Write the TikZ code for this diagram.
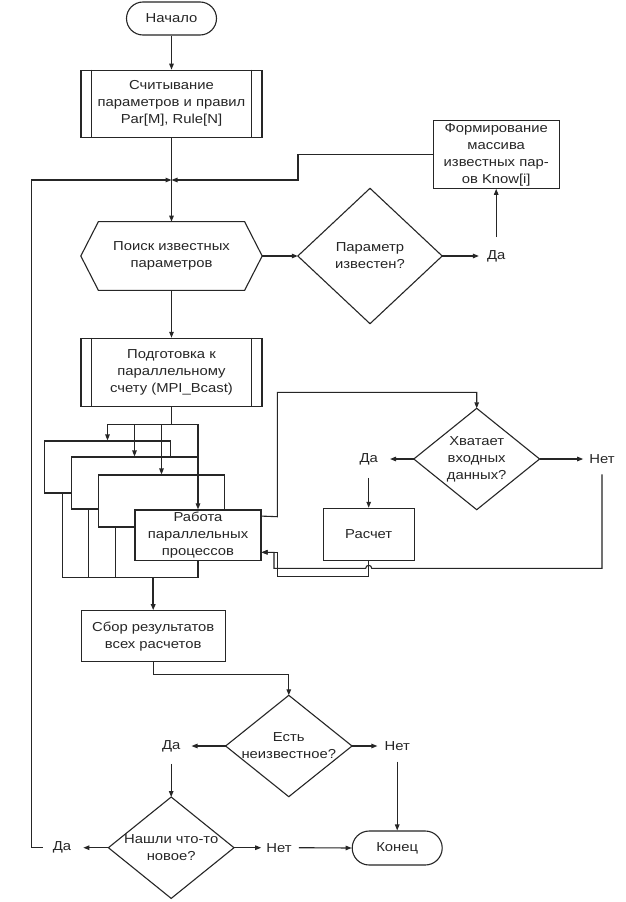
\documentclass[tikz,border=0pt]{standalone}
\usepackage{fontspec}
\setmainfont[FakeStretch=1.14]{Liberation Sans}
\usetikzlibrary{arrows.meta}
\begin{document}
\begin{tikzpicture}[x=1pt,y=-1pt,
 every node/.style={font=\fontsize{13}{17}\selectfont, text=black!85, align=center},
 ln/.style={line width=1.1pt, draw=black!85},
 arr/.style={ln, -{Triangle[length=6pt,width=4.5pt]}},
 box/.style={ln, rectangle, fill=white, inner sep=0pt},
 shp/.style={rectangle, inner sep=0pt},
 lbl/.style={inner sep=0pt},
]
\useasboundingbox[fill=white] (0,0) rectangle (625,902);

% top
\node[box, rounded corners=16.5pt, minimum width=90pt, minimum height=33pt] (start) at (171.5,18.5) {Начало};
\node[box, minimum width=181pt, minimum height=67pt] (read) at (171.5,103.7) {Считывание\\параметров и правил\\Par[M], Rule[N]};
\draw[ln] ([xshift=11pt]read.north west) -- ([xshift=11pt]read.south west);
\draw[ln] ([xshift=-11pt]read.north east) -- ([xshift=-11pt]read.south east);
\draw[arr] (start.south) -- (read.north);

\node[box, minimum width=126pt, minimum height=67.6pt] (form) at (496.2,154.5) {Формирование\\массива\\известных пар-\\ов Know[i]};

\node[shp, minimum width=181pt, minimum height=68.3pt] (search) at (171.5,256) {Поиск известных\\параметров};
\draw[ln] (search.west) -- ([xshift=17.6pt]search.north west) -- ([xshift=-17.6pt]search.north east) -- (search.east) -- ([xshift=-17.6pt]search.south east) -- ([xshift=17.6pt]search.south west) -- cycle;

\node[shp, minimum width=144pt, minimum height=135pt] (known) at (370,256) {Параметр\\известен?};
\draw[ln] (known.west) -- (known.north) -- (known.east) -- (known.south) -- cycle;

\node[lbl] (da1) at (496.2,256) {Да};
\draw[arr] (known.east) -- ([xshift=-8pt]da1.west);
\draw[arr] ([yshift=13pt]da1.north) -- (form.south);

\coordinate (m) at (171.5,180);
\draw[arr] (read.south) -- (search.north);
\draw[arr] (form.west) -- (298,154.5) |- (m);
\draw[arr] (search.east) -- (known.west);

% preparation
\node[box, minimum width=181pt, minimum height=68.4pt] (prep) at (171.5,372.5) {Подготовка к\\параллельному\\счету (MPI\_Bcast)};
\draw[ln] ([xshift=11pt]prep.north west) -- ([xshift=11pt]prep.south west);
\draw[ln] ([xshift=-11pt]prep.north east) -- ([xshift=-11pt]prep.south east);
\draw[arr] (search.south) -- (prep.north);

% stacked processes
\node[box, minimum width=126pt, minimum height=52pt] (b1) at (107.5,467) {};
\node[box, minimum width=126pt, minimum height=52pt] (b2) at (134.5,483) {};
\node[box, minimum width=126pt, minimum height=52pt] (b3) at (161.5,501) {};
\node[box, minimum width=126pt, minimum height=50.7pt] (work) at (198,535.3) {Работа\\параллельных\\процессов};

\coordinate (f) at (171.5,424.3);
\draw[ln] (prep.south) -- (f);
\draw[ln] (b1.north |- f) -- (work.north |- f);
\draw[arr] (b1.north |- f) -- (b1.north);
\draw[arr] (b2.north |- f) -- (b2.north);
\draw[arr] (b3.north |- f) -- (b3.north);
\draw[arr] (work.north |- f) -- (work.north);

\coordinate (j) at (153.2,577.3);
\path ([xshift=18.4pt]b1.south west) coordinate (b1l)
      ([xshift=17.6pt]b2.south west) coordinate (b2l)
      ([xshift=17.7pt]b3.south west) coordinate (b3l);
\draw[ln] (b1l) |- (j -| work.south) -- (work.south);
\draw[ln] (b2l) -- (b2l |- j);
\draw[ln] (b3l) -- (b3l |- j);

% check branch
\node[shp, minimum width=125.4pt, minimum height=101pt] (check) at (476.7,459) {Хватает\\входных\\данных?};
\draw[ln] (check.west) -- (check.north) -- (check.east) -- (check.south) -- cycle;
\draw[arr] ([yshift=-6.7pt]work.north east) -- (277.3,516.7) -- (277.3,392.3) -- (check.north |- 0,392.3) -- (check.north);

\node[box, minimum width=90.7pt, minimum height=52.4pt] (calc) at (368.7,534.5) {Расчет};
\node[lbl] (da2) at (368.7,459) {Да};
\node[lbl] (net2) at (602,459) {Нет};
\draw[arr] (check.west) -- ([xshift=12pt]da2.east);
\draw[arr] ([yshift=-13pt]da2.south) -- (calc.north);
\draw[arr] (check.east) -- ([xshift=-6pt]net2.west);

\path ([yshift=-17pt]work.east) coordinate (ri);
\draw[arr] ([yshift=-10.6pt]net2.south) -- (602,568.3) -- (371.7,568.3) arc (0:-180:3) -- (274,568.3) -- (274,552.3) -- (ri);
\draw[arr] (calc.south) -- (368.7,576.7) -- (277.3,576.7) -- (277.3,552.3) -- (ri);

% collect
\node[box, minimum width=144pt, minimum height=51pt] (collect) at (153.2,636.2) {Сбор результатов\\всех расчетов};
\draw[arr, line width=1.8pt] (j) -- (collect.north);

\node[shp, minimum width=126pt, minimum height=101pt] (unk) at (288.8,746) {Есть\\неизвестное?};
\draw[ln] (unk.west) -- (unk.north) -- (unk.east) -- (unk.south) -- cycle;
\draw[arr] (collect.south) -- (153.2,674.3) -| (unk.north);

\node[lbl] (da3) at (171.2,746) {Да};
\node[lbl] (net3) at (397.2,746) {Нет};
\draw[arr] (unk.west) -- ([xshift=11pt]da3.east);
\draw[arr] (unk.east) -- ([xshift=-7pt]net3.west);

\node[shp, minimum width=125.2pt, minimum height=101pt] (find) at (171.2,847.7) {Нашли что-то\\новое?};
\draw[ln] (find.west) -- (find.north) -- (find.east) -- (find.south) -- cycle;
\draw[arr] ([yshift=-12pt]da3.south) -- (find.north);

\node[box, rounded corners=17pt, minimum width=90pt, minimum height=34pt] (fin) at (397.2,848) {Конец};
\draw[arr] ([yshift=-11pt]net3.south) -- (fin.north);

\node[lbl] (da4) at (62,847.7) {Да};
\node[lbl] (net4) at (279,847.7) {Нет};
\draw[arr] (find.west) -- ([xshift=12pt]da4.east);
\draw[arr] (find.east) -- ([xshift=-5pt]net4.west);
\draw[arr] ([xshift=7pt]net4.east) -- (fin.west);
\draw[arr] ([xshift=-10pt]da4.west) -- (31.2,847.7) |- (m);

\end{tikzpicture}
\end{document}
